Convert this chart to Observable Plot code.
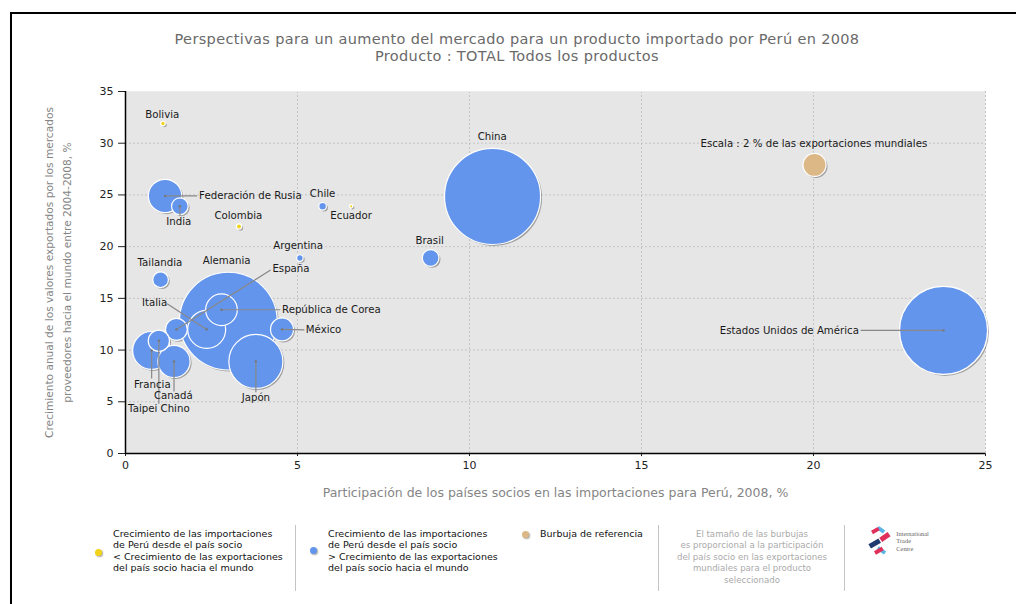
<!DOCTYPE html>
<html><head><meta charset="utf-8">
<script src="https://cdn.jsdelivr.net/npm/d3@7"></script>
<script src="https://cdn.jsdelivr.net/npm/@observablehq/plot@0.6"></script>
<style>
body{margin:0;background:#fff;font-family:"DejaVu Sans",sans-serif;}
#page{position:relative;width:1016px;height:604px;overflow:hidden;background:#fff;}
#border{position:absolute;left:10px;top:12px;width:1100px;height:700px;border-left:2px solid #000;border-top:2px solid #000;}
#title{position:absolute;left:0;width:1034px;top:31px;text-align:center;font-size:14.5px;letter-spacing:0.35px;line-height:17px;color:#6a6a6a;}
#chart{position:absolute;left:0;top:0;}
.lg{position:absolute;font-family:"DejaVu Sans",sans-serif;font-size:9.5px;line-height:11.4px;color:#111;white-space:nowrap;}
.sep{position:absolute;top:525px;width:1px;height:66px;background:#c4c4c4;}
.ldot{position:absolute;width:7px;height:7px;border-radius:50%;box-shadow:1px 1px 1.5px rgba(0,0,0,0.35);}
</style></head><body>
<div id="page">
 <div id="border"></div>
 <div id="title"></div>
 <div id="chart"></div>
 <div id="legend"></div>
</div>
<script>
// ---- data ----
const titleLines = ["Perspectivas para un aumento del mercado para un producto importado por Perú en 2008", "Producto : TOTAL Todos los productos"];
const xTitle = "Participación de los países socios en las importaciones para Perú, 2008, %";
const yTitle = ["Crecimiento anual de los valores exportados por los mercados", "proveedores hacia el mundo entre 2004-2008, %"];
const countries = ["Bolivia","Federación de Rusia","India","Colombia","Chile","Ecuador","Argentina","Brasil","China","Estados Unidos de América","Tailandia","Alemania","España","República de Corea","Italia","México","Japón","Francia","Canadá","Taipei Chino"];
const importShare = [1.09,1.15,1.58,3.30,5.73,6.56,5.07,8.87,10.67,23.78,1.02,2.99,1.48,2.79,2.36,4.55,3.79,0.76,1.41,0.97];
const exportGrowth = [31.9,24.9,23.9,21.95,23.9,23.9,18.9,18.9,24.85,11.9,16.8,12.8,12.0,13.9,12.0,12.0,8.9,9.96,8.9,10.9];
const worldExportShare = [0.4,2.9,1.45,0.45,0.66,0.3,0.57,1.45,8.35,7.65,1.36,8.5,1.9,2.75,3.3,2.0,4.7,3.3,2.8,1.85];
const growthGroup = ["menor","mayor","mayor","menor","mayor","menor","mayor","mayor","mayor","mayor","mayor","mayor","mayor","mayor","mayor","mayor","mayor","mayor","mayor","mayor"];
const referenceLabel = "Escala : 2 % de las exportaciones mundiales";
const referencePoint = {x: 20.03, y: 27.9, share: 2};
const xTicks = [0,5,10,15,20,25];
const yTicks = [0,5,10,15,20,25,30,35];
const legendTexts = [
  ["Crecimiento de las importaciones","de Perú desde el país socio","< Crecimiento de las exportaciones","del país socio hacia el mundo"],
  ["Crecimiento de las importaciones","de Perú desde el país socio","> Crecimiento de las exportaciones","del país socio hacia el mundo"],
  ["Burbuja de referencia"],
  ["El tamaño de las burbujas","es proporcional a la participación","del país socio en las exportaciones","mundiales para el producto","seleccionado"]
];

// ---- label layout (data units) ----
const labelLayout = {
 "Bolivia": {x:1.07,y:32.8},
 "Federación de Rusia": {x:2.14,y:24.9,anchor:"start",line:[2.08,24.9]},
 "India": {x:1.55,y:22.4,line:[1.58,23.0]},
 "Colombia": {x:3.28,y:23.0},
 "Chile": {x:5.73,y:25.1},
 "Ecuador": {x:6.56,y:23.0},
 "Argentina": {x:5.02,y:20.05},
 "Brasil": {x:8.84,y:20.6},
 "China": {x:10.66,y:30.6},
 "Estados Unidos de América": {x:21.32,y:11.9,anchor:"end",line:[21.37,11.9]},
 "Tailandia": {x:1.0,y:18.45},
 "Alemania": {x:2.94,y:18.6},
 "España": {x:4.27,y:17.85,anchor:"start",line:[4.22,17.75]},
 "República de Corea": {x:4.55,y:13.9,anchor:"start",line:[4.5,13.9]},
 "Italia": {x:0.845,y:14.57,line:[1.21,14.47]},
 "México": {x:5.24,y:11.96,anchor:"start",line:[5.2,11.96]},
 "Japón": {x:3.79,y:5.44,line:[3.79,5.93]},
 "Francia": {x:0.78,y:6.67,line:[0.76,7.25]},
 "Canadá": {x:1.39,y:5.6,line:[1.41,6.0]},
 "Taipei Chino": {x:0.97,y:4.32,line:[0.97,4.8]}
};

const colors = {menor:"#f3d21c", mayor:"#6495ed", ref:"#ddb887"};
const data = countries.map((c,i)=>({name:c, x:importShare[i], y:exportGrowth[i], share:worldExportShare[i], g:growthGroup[i]}));
data.push({name:referenceLabel, x:referencePoint.x, y:referencePoint.y, share:referencePoint.share, g:"ref"});
const labels = data.map(d=>{const L = d.name===referenceLabel ? {x:20.01,y:29.95} : labelLayout[d.name]; return {...d, lx:L.x, ly:L.y, anchor:L.anchor||"middle", line:L.line};});
const links = labels.filter(d=>d.line).map(d=>({x1:d.x,y1:d.y,x2:d.line[0],y2:d.line[1]}));

document.getElementById("title").innerHTML = titleLines.join("<br>");

const textOpts = {fontSize:10.2, fill:"#1a1a1a", fontFamily:"DejaVu Sans"};
const chart = Plot.plot({
  width:1016, height:510,
  marginTop:91, marginLeft:125, marginRight:31, marginBottom:57,
  style:{fontFamily:"DejaVu Sans", fontSize:"11px", color:"#222", background:"transparent", overflow:"visible"},
  x:{domain:[0,25], ticks:xTicks, tickSize:3, tickPadding:5, label:null},
  y:{domain:[0,35], ticks:yTicks, tickSize:7, tickPadding:5, label:null},
  r:{type:"linear", domain:[0,2], range:[0,11.5]},
  color:{type:"identity"},
  marks:[
    Plot.frame({fill:"#e6e6e6", stroke:null}),
    Plot.ruleX(xTicks.slice(1), {stroke:"#c4c4c4", strokeDasharray:"2,2"}),
    Plot.ruleY(yTicks.slice(1,-1), {stroke:"#c4c4c4", strokeDasharray:"2,2"}),
    Plot.ruleY([35], {stroke:"#ececec"}),
    Plot.dot(data, {x:"x", y:"y", r:"share", fill:"#000", fillOpacity:0.3, dx:1.5, dy:1.5}),
    Plot.dot(data, {x:"x", y:"y", r:"share", fill:d=>colors[d.g], stroke:"#fff", strokeWidth:1.2}),
    Plot.link(links, {x1:"x1", y1:"y1", x2:"x2", y2:"y2", stroke:"#888", strokeWidth:1.2}),
    Plot.dot(links, {x:"x1", y:"y1", r:1.2, fill:"#777"}),
    Plot.text(labels.filter(d=>d.anchor==="middle"), {x:"lx", y:"ly", text:"name", textAnchor:"middle", ...textOpts}),
    Plot.text(labels.filter(d=>d.anchor==="start"), {x:"lx", y:"ly", text:"name", textAnchor:"start", ...textOpts}),
    Plot.text(labels.filter(d=>d.anchor==="end"), {x:"lx", y:"ly", text:"name", textAnchor:"end", ...textOpts}),
    Plot.ruleX([0], {stroke:"#000", strokeWidth:1.5}),
    Plot.ruleY([0], {stroke:"#000", strokeWidth:1.5}),
    Plot.text([xTitle], {frameAnchor:"bottom", dy:43, text:d=>d, fontSize:12.5, fill:"#858585"}),
    Plot.text([yTitle.join("\n")], {frameAnchor:"left", dx:-69, rotate:-90, textAnchor:"middle", lineAnchor:"middle", text:d=>d, fontSize:10.6, lineHeight:1.7, fill:"#858585"})
  ]
});
document.getElementById("chart").appendChild(chart);

// ---- legend ----
const lg = document.getElementById("legend");
function add(html){ lg.insertAdjacentHTML("beforeend", html); }
add(`<div class="ldot" style="left:95px;top:549px;background:${colors.menor}"></div>`);
add(`<div class="lg" style="left:113px;top:528px">${legendTexts[0].join("<br>")}</div>`);
add(`<div class="sep" style="left:295px"></div>`);
add(`<div class="ldot" style="left:310px;top:547px;background:${colors.mayor}"></div>`);
add(`<div class="lg" style="left:328px;top:528px">${legendTexts[1].join("<br>")}</div>`);
add(`<div class="ldot" style="left:522px;top:531px;background:${colors.ref}"></div>`);
add(`<div class="lg" style="left:540px;top:528px">${legendTexts[2].join("<br>")}</div>`);
add(`<div class="sep" style="left:658px"></div>`);
add(`<div class="lg" style="left:662px;width:180px;top:529px;text-align:center;color:#aaa;font-size:8.6px">${legendTexts[3].join("<br>")}</div>`);
add(`<div class="sep" style="left:844px"></div>`);
add(`<svg style="position:absolute;left:864px;top:524px" width="80" height="32" viewBox="0 0 62 25">
 <g transform="translate(12,13)">
  <rect x="-9" y="-2" width="9" height="4" fill="#1e3a6e" transform="rotate(-30)"/>
  <rect x="1" y="-2" width="8" height="4" fill="#e0305a" transform="rotate(-35)"/>
  <rect x="-7" y="-9" width="6" height="3" fill="#5ab4e6" transform="rotate(35)"/>
  <rect x="2" y="4" width="7" height="3" fill="#5ab4e6" transform="rotate(35)"/>
  <rect x="-8" y="5" width="7" height="3" fill="#e0305a" transform="rotate(-30)"/>
  <rect x="-2" y="-10" width="6" height="3" fill="#e0305a" transform="rotate(-30)"/>
 </g>
 <text x="25" y="9" font-size="5" fill="#666" font-family="Liberation Serif">International</text>
 <text x="25" y="15" font-size="5" fill="#666" font-family="Liberation Serif">Trade</text>
 <text x="25" y="21" font-size="5" fill="#666" font-family="Liberation Serif">Centre</text>
</svg>`);
</script>
</body></html>
